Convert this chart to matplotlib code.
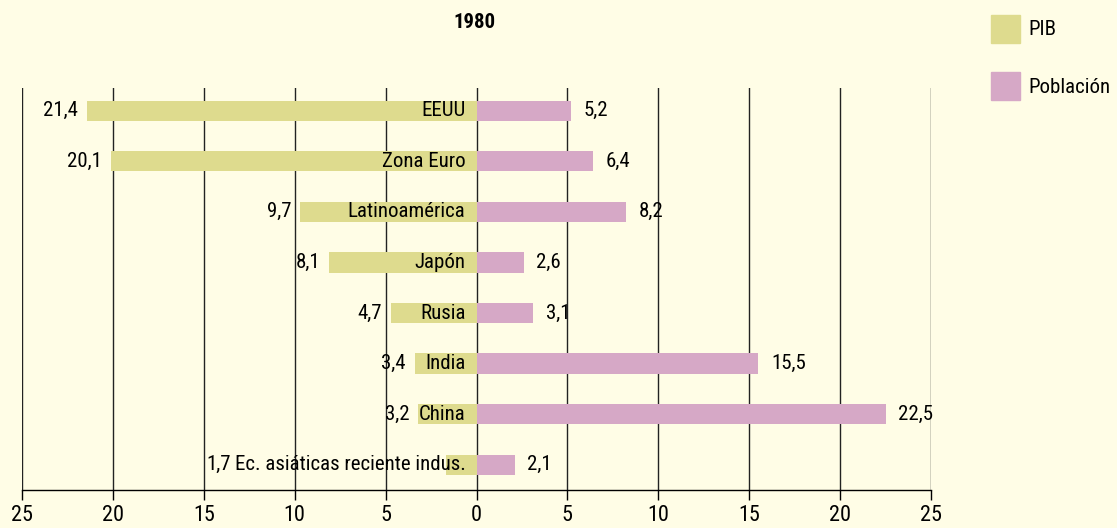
import matplotlib
matplotlib.use('Agg')
import matplotlib.pyplot as plt
from matplotlib.patches import Patch
from matplotlib import font_manager

# data
regiones = ['EEUU', 'Zona Euro', 'Latinoamérica', 'Japón', 'Rusia', 'India', 'China',
            'Ec. asiáticas reciente indus.']
pib = [21.4, 20.1, 9.7, 8.1, 4.7, 3.4, 3.2, 1.7]
poblacion = [5.2, 6.4, 8.2, 2.6, 3.1, 15.5, 22.5, 2.1]
ticks = [-25, -20, -15, -10, -5, 0, 5, 10, 15, 20, 25]

# narrow font like the original, if installed
names = {f.name for f in font_manager.fontManager.ttflist}
fams = [f for f in ['Roboto Condensed', 'Archivo Narrow', 'Liberation Sans'] if f in names]
plt.rcParams['font.family'] = fams + ['DejaVu Sans']

bg = '#FFFDE6'
c_pib = '#DEDB8E'
c_pob = '#D6A8C6'
fs = 15

fig = plt.figure(figsize=(11.17, 5.28), dpi=100, facecolor=bg)
ax = fig.add_axes([22/1117, 38/528, 909/1117, 402/528], facecolor=bg)

y = list(range(len(regiones)))
ax.barh(y, [-v for v in pib], height=0.4, color=c_pib, zorder=2)
ax.barh(y, poblacion, height=0.4, color=c_pob, zorder=2)

def fmt(v):
    return f'{v:.1f}'.replace('.', ',')

ax.set_xlim(-25, 25)
ax.set_ylim(7.5, -0.45)

cat_txt = []
for i in y:
    cat_txt.append(ax.text(-0.6, i, regiones[i], ha='right', va='center', fontsize=fs, zorder=3))
    ax.text(poblacion[i] + 0.7, i, fmt(poblacion[i]), ha='left', va='center', fontsize=fs, zorder=3)

fig.canvas.draw()
r = fig.canvas.get_renderer()
inv = ax.transData.inverted()
for i in y:
    xpos = -pib[i] - 0.5
    # label wider than bar: put the value left of the name
    bb = cat_txt[i].get_window_extent(r)
    left = inv.transform((bb.x0, 0))[0]
    if left < -pib[i]:
        xpos = left - 0.2
    ax.text(xpos, i, fmt(pib[i]), ha='right', va='center', fontsize=fs, zorder=3)

ax.set_xticks(ticks)
ax.set_xticklabels([str(abs(t)) for t in ticks], fontsize=fs + 1)
ax.set_yticks([])
for t in ticks:
    ax.axvline(t, color='#222222', lw=1, zorder=1)
for s in ['top', 'right', 'left']:
    ax.spines[s].set_visible(False)
ax.spines['bottom'].set_linewidth(1)
ax.tick_params(axis='x', length=7, width=1, pad=4)

fig.text(475/1117, 1 - 22/528, '1980', ha='center', va='center', fontsize=fs, fontweight='bold')

handles = [Patch(color=c_pib, label='PIB'), Patch(color=c_pob, label='Población')]
fig.legend(handles=handles, loc='upper left', bbox_to_anchor=(974/1117, 1 + 2/528),
           frameon=False, fontsize=fs, handlelength=1.4, handleheight=1.7,
           labelspacing=1.4, handletextpad=0.4, borderpad=0.3)

fig.savefig('out.png', dpi=100, facecolor=bg)
